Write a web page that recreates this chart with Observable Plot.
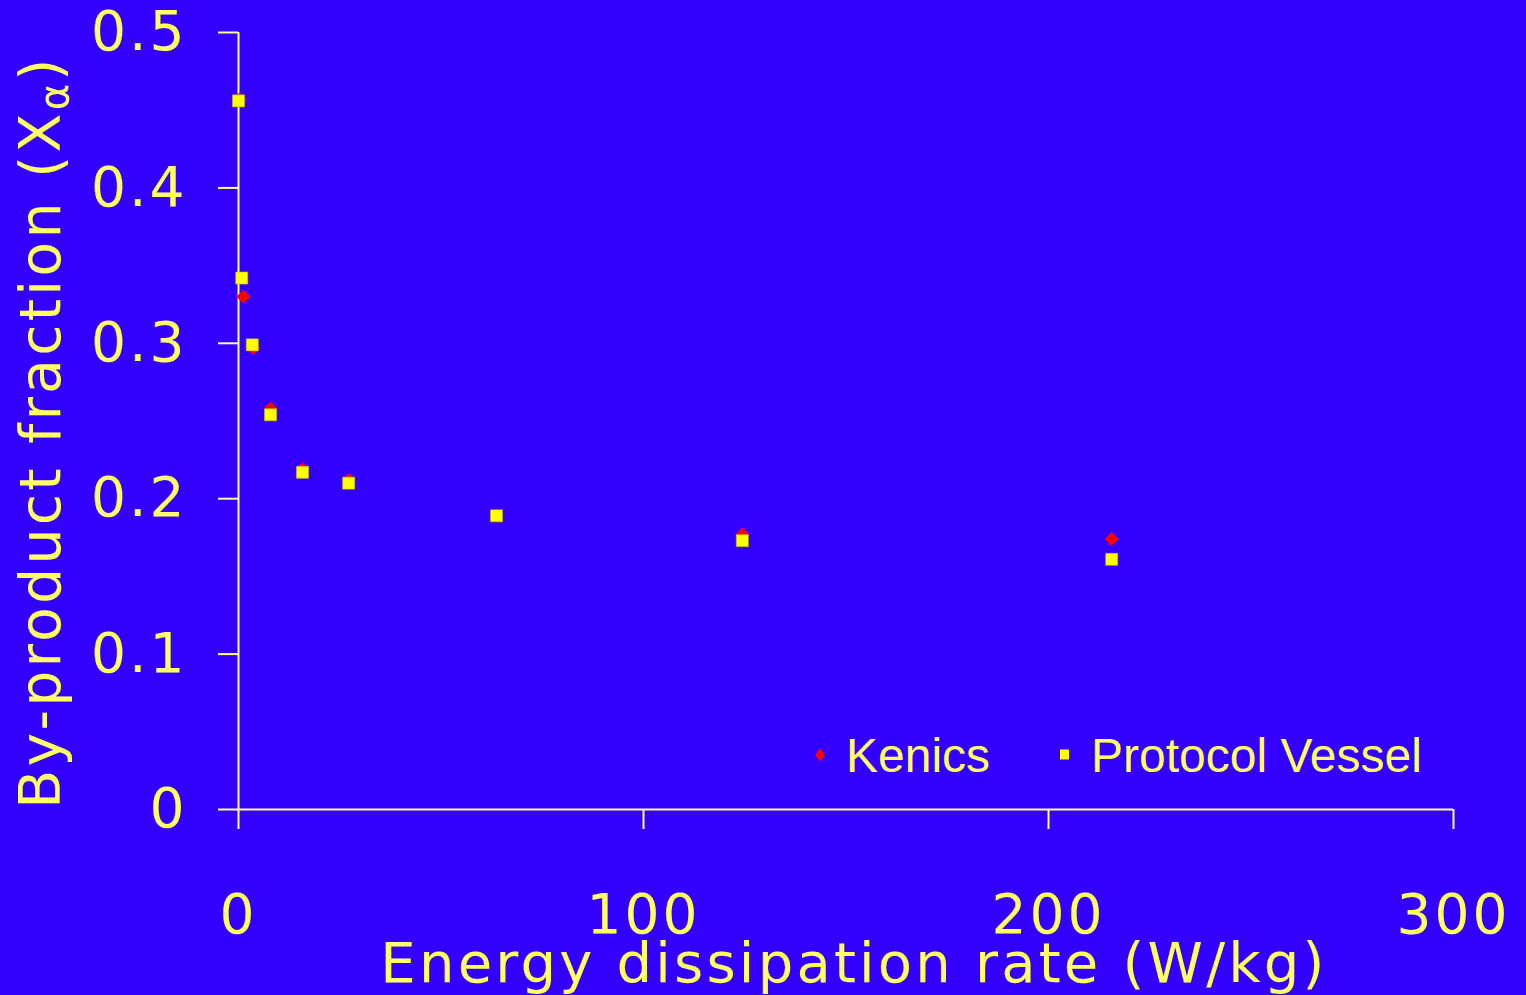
<!DOCTYPE html>
<html>
<head>
<meta charset="utf-8">
<script src="https://cdn.jsdelivr.net/npm/d3@7"></script>
<script src="https://cdn.jsdelivr.net/npm/@observablehq/plot@0.6"></script>
<style>
  html, body { margin: 0; padding: 0; background: #3300ff; overflow: hidden; }
  #wrap { position: relative; width: 1526px; height: 995px; }
  .legend { position: absolute; font-family: "Liberation Sans", Arial, sans-serif; font-size: 48px; color: #ffff66; line-height: 1; white-space: nowrap; }
</style>
</head>
<body>
<div id="wrap"></div>
<script>
// Data
const energyRate = [0.3, 1.2, 3.6, 7.9, 15.8, 27.2, 63.7, 124.4, 215.6];
const kenics = [0.457, 0.330, 0.297, 0.258, 0.219, 0.212, 0.189, 0.177, 0.174];
const vesselRate = [0, 0.8, 3.4, 7.9, 15.8, 27.2, 63.7, 124.4, 215.6];
const vessel = [0.456, 0.342, 0.299, 0.254, 0.217, 0.210, 0.189, 0.173, 0.161];
const xTicks = [0, 100, 200, 300];
const yTicks = [0, 0.1, 0.2, 0.3, 0.4, 0.5];
const seriesNames = ["Kenics", "Protocol Vessel"];

const kenicsData = energyRate.map((x, i) => ({x, y: kenics[i]}));
const vesselData = vesselRate.map((x, i) => ({x, y: vessel[i]}));

const textColor = "#ffff66";
const lineColor = "#ffff99";

const plot = Plot.plot({
  width: 1526,
  height: 995,
  marginLeft: 238,
  marginRight: 73,
  marginTop: 32,
  marginBottom: 186,
  style: {background: "#3300ff", color: textColor, fontFamily: "DejaVu Sans, sans-serif"},
  x: {domain: [0, 300], ticks: xTicks},
  y: {domain: [0, 0.5], ticks: yTicks},
  marks: [
    Plot.axisX(xTicks, {tickSize: 20, tickPadding: 64, fontSize: 55, stroke: lineColor, strokeWidth: 2, strokeOpacity: 1, color: textColor, label: null, tickFormat: d => String(d)}),
    Plot.axisY(yTicks, {tickSize: 20, tickPadding: 31, fontSize: 55, stroke: lineColor, strokeWidth: 2, strokeOpacity: 1, color: textColor, label: null, tickFormat: d => d === 0 ? "0" : d3.format(".1f")(d)}),
    Plot.ruleX([0], {y1: 0, y2: 0.5, stroke: lineColor, strokeWidth: 2}),
    Plot.ruleY([0], {x1: 0, x2: 300, stroke: lineColor, strokeWidth: 2}),
    Plot.dot(kenicsData, {x: "x", y: "y", symbol: "diamond2", r: 6.3, fill: "#ff0000", stroke: "none"}),
    Plot.dot(vesselData, {x: "x", y: "y", symbol: "square", r: 6.8, fill: "#ffff00", stroke: "#b8b800", strokeWidth: 0.6})
  ]
});

const svg = d3.select(plot);
svg.selectAll("text").attr("letter-spacing", "3px");
// Axis titles
svg.append("text")
  .attr("x", 854).attr("y", 982)
  .attr("text-anchor", "middle")
  .attr("font-family", "DejaVu Sans, sans-serif")
  .attr("font-size", 56)
  .attr("letter-spacing", "3.2px")
  .attr("fill", textColor)
  .text("Energy dissipation rate (W/kg)");
const yt = svg.append("text")
  .attr("transform", "translate(60,432) rotate(-90)")
  .attr("text-anchor", "middle")
  .attr("font-family", "DejaVu Sans, sans-serif")
  .attr("font-size", 57)
  .attr("letter-spacing", "3.2px")
  .attr("fill", textColor);
yt.append("tspan").text("By-product fraction (X");
yt.append("tspan").attr("font-size", 40).attr("dy", 8).text("α");
yt.append("tspan").attr("dy", -8).text(")");

const wrap = document.getElementById("wrap");
wrap.appendChild(plot);

// Legend
function legendItem(left, label, shape, color) {
  const sw = document.createElementNS("http://www.w3.org/2000/svg", "svg");
  sw.setAttribute("width", 16); sw.setAttribute("height", 16);
  sw.style.position = "absolute";
  sw.style.left = (left - 8) + "px";
  sw.style.top = (755 - 8) + "px";
  const p = document.createElementNS("http://www.w3.org/2000/svg", "path");
  p.setAttribute("d", shape === "diamond" ? "M8,1.5L13,8L8,14.5L3,8Z" : "M3,2.5H12V12.5H3Z");
  p.setAttribute("fill", color);
  sw.appendChild(p);
  wrap.appendChild(sw);
  const d = document.createElement("div");
  d.className = "legend";
  d.style.left = (left + 26) + "px";
  d.style.top = "732px";
  d.textContent = label;
  wrap.appendChild(d);
}
legendItem(820, seriesNames[0], "diamond", "#ff0000");
legendItem(1065, seriesNames[1], "square", "#ffff00");
</script>
</body>
</html>
